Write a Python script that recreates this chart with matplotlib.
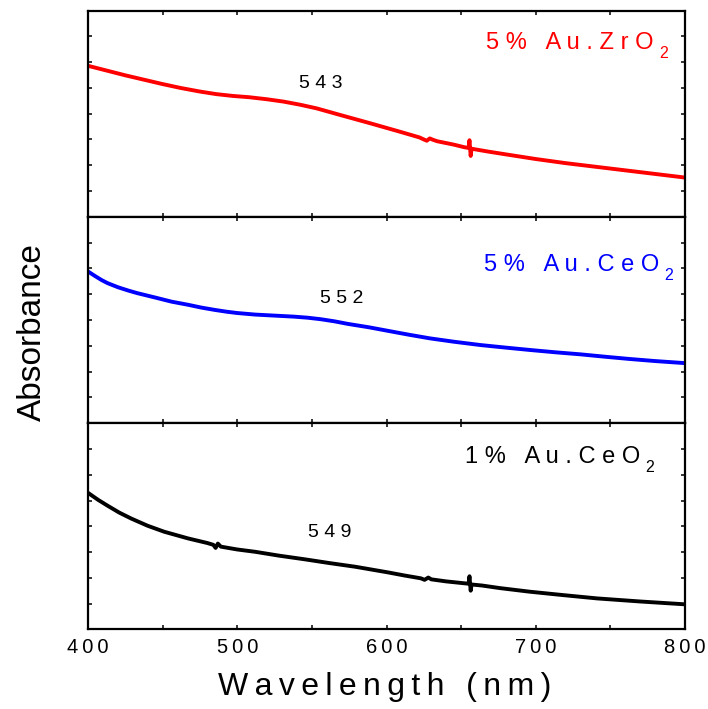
import matplotlib
matplotlib.use("Agg")
import matplotlib.pyplot as plt

plt.rcParams['font.family'] = ['Liberation Sans', 'DejaVu Sans']

TS = '\u2009'  # thin space for letter spacing

# ---------------- data ----------------
wl_zro2 = [400, 425, 450, 462, 475, 486, 497, 508, 520, 531, 542, 553, 569, 589, 609, 622,
           625, 627, 629, 631, 634, 645, 652, 655, 655.6, 656.4, 657, 660, 668, 680, 700,
           720, 740, 760, 780, 800]
ab_zro2 = [5.86, 5.49, 5.15, 5.00, 4.86, 4.76, 4.69, 4.64, 4.56, 4.47, 4.35, 4.21, 3.95, 3.63, 3.30, 3.08,
           3.00, 2.95, 3.04, 2.99, 2.93, 2.80, 2.70, 2.67, 2.97, 2.36, 2.64, 2.61, 2.53, 2.42, 2.24,
           2.08, 1.94, 1.80, 1.66, 1.52]

wl_ceo2_5 = [400, 404.5, 409, 413, 420, 427, 433, 445, 456, 467, 476, 485, 493, 500, 512, 525, 538, 547,
             556, 565, 574, 588, 601, 615, 629, 645, 663, 680, 696, 713, 730, 746, 763, 780, 800]
ab_ceo2_5 = [5.88, 5.71, 5.55, 5.43, 5.27, 5.14, 5.04, 4.87, 4.71, 4.59, 4.48, 4.39, 4.32, 4.27, 4.21, 4.17, 4.13, 4.09,
             4.03, 3.95, 3.85, 3.72, 3.58, 3.43, 3.29, 3.16, 3.03, 2.93, 2.84, 2.75, 2.67, 2.58, 2.49, 2.41, 2.33]

wl_ceo2_1 = [400, 406.7, 413.4, 421, 429, 440, 451, 467, 480, 484, 485.5, 487, 489, 500, 512, 528,
             545, 562, 579, 590, 601, 612, 623, 625.5, 628, 630, 640, 650, 655, 655.6, 656.4,
             657, 664, 676, 696, 718, 741, 770, 800]
ab_ceo2_1 = [5.30, 5.03, 4.79, 4.53, 4.30, 4.02, 3.79, 3.53, 3.35, 3.28, 3.16, 3.33, 3.21, 3.10, 3.01, 2.86,
             2.72, 2.57, 2.43, 2.32, 2.21, 2.09, 1.98, 1.92, 2.01, 1.94, 1.86, 1.80, 1.77, 2.06, 1.50,
             1.74, 1.70, 1.60, 1.46, 1.33, 1.20, 1.08, 0.97]

series_pct = ['5%', '5%', '1%']
series_names = ['Au.ZrO', 'Au.CeO', 'Au.CeO']
peak_labels = ['543', '552', '549']
colors = ['#ff0000', '#0000ff', '#000000']
xtick_vals = [400, 500, 600, 700, 800]
xtick_labels = ['400', '500', '600', '700', '800']

W, H = 708, 709
fig = plt.figure(figsize=(W / 100, H / 100), dpi=100)


def spaced(s, sep=TS):
    return sep.join(list(s))


def fx(x):
    return x / W


def fy(y):
    return 1 - y / H


left_px, right_px = 88, 685
bounds = [(10.7, 216.7), (216.7, 423.3), (423.3, 629.3)]
data = [(wl_zro2, ab_zro2), (wl_ceo2_5, ab_ceo2_5), (wl_ceo2_1, ab_ceo2_1)]

axes = []
for i, ((t, b), (xs, ys)) in enumerate(zip(bounds, data)):
    ax = fig.add_axes([fx(left_px), fy(b), fx(right_px - left_px), (b - t) / H])
    ax.plot(xs, ys, color=colors[i], lw=2.8, solid_joinstyle='round')
    ax.set_xlim(400, 800)
    ax.set_ylim(0, 8)
    ax.set_yticks(range(0, 9))
    ax.set_yticklabels([])
    ax.set_xticks(xtick_vals)
    ax.set_xticks([450, 550, 650, 750], minor=True)
    if i < 2:
        ax.set_xticklabels([])
    else:
        ax.set_xticklabels([spaced(s) for s in xtick_labels], fontsize=14.5)
    ax.tick_params(which='both', direction='in', top=True, right=True,
                   length=3, width=1.1, pad=6)
    for sp in ax.spines.values():
        sp.set_linewidth(1.6)
    axes.append(ax)

# x label
fig.text(fx(385), fy(695), spaced('Wavelength (nm)'), fontsize=23,
         ha='center', va='baseline')
# y label
fig.text(fx(32), fy(332), 'Absorbance', fontsize=24, rotation=90,
         ha='center', va='center')

# series labels (right end of "O", baseline) and subscript 2
lab_pos = [(654, 49), (659, 271), (640, 463)]
for pct, name, (x, y), c in zip(series_pct, series_names, lab_pos, colors):
    txt = spaced(pct, ' ') + '   ' + spaced(name, ' ')
    fig.text(fx(x), fy(y), txt, fontsize=17, color=c,
             ha='right', va='baseline')
    fig.text(fx(x + 5), fy(y + 9), '2', fontsize=11.5, color=c,
             ha='left', va='baseline')

# peak labels
peak_pos = [(321, 88), (342, 302.7), (330, 536.7)]
for lab, (x, y) in zip(peak_labels, peak_pos):
    fig.text(fx(x), fy(y), spaced(lab, ' '), fontsize=14, color='black',
             ha='center', va='baseline')

fig.savefig('out.png', dpi=100)
